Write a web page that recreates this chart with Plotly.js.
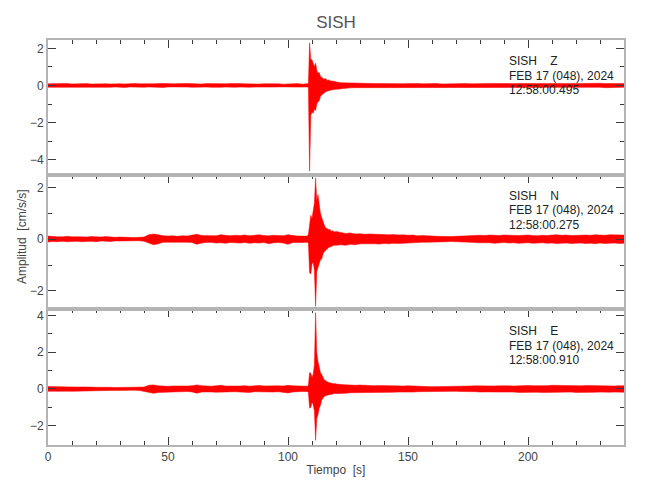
<!DOCTYPE html>
<html>
<head>
<meta charset="utf-8">
<script src="https://cdn.plot.ly/plotly-3.0.1.min.js"></script>
<style>html,body{margin:0;padding:0;background:#fff;}#chart{width:650px;height:500px;}</style>
</head>
<body>
<div id="chart"></div>
<script>
// ---------- DATA ----------
// sample times [s]: 0..108 every 2 s, 108.5..120 every 0.5 s, 122..240 every 2 s
const timeSegments = [[0, 108, 2], [108.5, 120, 0.5], [122, 240, 2]];

const stations = ["SISH", "SISH", "SISH"];
const components = ["Z", "N", "E"];
const dateLabels = ["FEB 17 (048), 2024", "FEB 17 (048), 2024", "FEB 17 (048), 2024"];
const startTimes = ["12:58:00.495", "12:58:00.275", "12:58:00.910"];

// Z component: upper / lower envelope per sample [cm/s/s]
const zHiPre = [0.09,0.10,0.08,0.10,0.11,0.08,0.10,0.09,0.10,0.08,
  0.09,0.11,0.09,0.08,0.10,0.09,0.08,0.10,0.11,0.09,
  0.08,0.10,0.09,0.10,0.08,0.10,0.09,0.08,0.10,0.11,
  0.09,0.10,0.08,0.10,0.09,0.10,0.08,0.09,0.10,0.08,
  0.10,0.09,0.08,0.10,0.08,0.09,0.10,0.08,0.09,0.07,
  0.09,0.08,0.10,0.07,0.08];
const zLoPre = [-0.10,-0.08,-0.10,-0.09,-0.08,-0.11,-0.09,-0.10,-0.08,-0.10,
  -0.09,-0.08,-0.10,-0.10,-0.08,-0.09,-0.11,-0.08,-0.10,-0.09,
  -0.10,-0.08,-0.10,-0.09,-0.11,-0.08,-0.10,-0.10,-0.08,-0.09,
  -0.10,-0.08,-0.10,-0.09,-0.10,-0.08,-0.10,-0.09,-0.08,-0.10,
  -0.09,-0.08,-0.10,-0.09,-0.08,-0.10,-0.08,-0.09,-0.08,-0.10,
  -0.08,-0.09,-0.07,-0.09,-0.08];
const zHiEvt = [0.10,2.30,1.40,1.38,1.15,1.02,1.20,0.80,0.66,0.70,0.50,0.46,0.40,0.34,0.38,0.30,0.27,0.30,0.24,0.22,0.25,0.20,0.22,0.19];
const zLoEvt = [-0.10,-4.62,-1.60,-1.45,-1.50,-1.28,-1.35,-1.00,-0.88,-0.84,-0.60,-0.52,-0.45,-0.40,-0.36,-0.32,-0.30,-0.29,-0.26,-0.25,-0.23,-0.22,-0.20,-0.20];
const zHiPost = [0.15,0.14,0.12,0.13,0.11,0.11,0.11,0.10,0.11,0.10,
  0.09,0.11,0.10,0.09,0.10,0.08,0.10,0.09,0.10,0.09,
  0.10,0.08,0.09,0.10,0.09,0.10,0.10,0.09,0.10,0.10,
  0.09,0.10,0.11,0.10,0.09,0.10,0.10,0.11,0.10,0.10,
  0.09,0.10,0.11,0.10,0.10,0.11,0.10,0.10,0.12,0.10,
  0.10,0.11,0.10,0.10,0.12,0.10,0.11,0.10,0.10,0.11];
const zLoPost = [-0.16,-0.15,-0.13,-0.12,-0.12,-0.11,-0.11,-0.11,-0.10,-0.10,
  -0.10,-0.09,-0.10,-0.10,-0.09,-0.10,-0.08,-0.10,-0.09,-0.10,
  -0.09,-0.10,-0.08,-0.09,-0.10,-0.09,-0.10,-0.10,-0.09,-0.10,
  -0.10,-0.09,-0.10,-0.11,-0.10,-0.09,-0.10,-0.10,-0.11,-0.10,
  -0.10,-0.10,-0.09,-0.11,-0.10,-0.10,-0.11,-0.10,-0.10,-0.12,
  -0.10,-0.10,-0.11,-0.10,-0.10,-0.12,-0.10,-0.10,-0.11,-0.10];

// N component
const nHiPre = [0.12,0.10,0.09,0.09,0.11,0.09,0.10,0.09,0.08,0.10,
  0.09,0.08,0.10,0.08,0.07,0.08,0.07,0.07,0.06,0.07,
  0.08,0.17,0.20,0.17,0.13,0.12,0.13,0.11,0.13,0.12,
  0.15,0.19,0.14,0.13,0.14,0.13,0.17,0.14,0.13,0.15,
  0.14,0.16,0.13,0.15,0.17,0.14,0.13,0.15,0.14,0.13,
  0.17,0.14,0.12,0.12,0.12];
const nLoPre = [-0.11,-0.09,-0.10,-0.08,-0.10,-0.09,-0.08,-0.10,-0.09,-0.08,
  -0.10,-0.07,-0.08,-0.09,-0.07,-0.07,-0.06,-0.06,-0.07,-0.06,
  -0.08,-0.15,-0.22,-0.18,-0.12,-0.13,-0.12,-0.12,-0.11,-0.12,
  -0.13,-0.20,-0.15,-0.13,-0.12,-0.15,-0.14,-0.16,-0.13,-0.14,
  -0.15,-0.13,-0.16,-0.14,-0.15,-0.13,-0.18,-0.14,-0.13,-0.15,
  -0.20,-0.13,-0.12,-0.13,-0.12];
const nHiEvt = [0.18,0.70,0.92,0.80,1.10,1.40,2.37,1.50,1.72,1.20,1.00,0.85,0.70,0.55,0.45,0.43,0.40,0.36,0.38,0.30,0.33,0.30,0.28,0.30];
const nLoEvt = [-0.16,-1.30,-1.35,-0.95,-0.90,-1.20,-2.60,-1.25,-1.10,-0.95,-0.80,-0.78,-0.60,-0.50,-0.45,-0.40,-0.36,-0.32,-0.30,-0.27,-0.26,-0.24,-0.23,-0.24];
const nHiPost = [0.26,0.22,0.24,0.20,0.21,0.19,0.20,0.19,0.18,0.18,
  0.17,0.18,0.16,0.17,0.15,0.16,0.13,0.14,0.12,0.12,
  0.11,0.10,0.11,0.10,0.11,0.12,0.13,0.13,0.14,0.15,
  0.14,0.16,0.15,0.14,0.16,0.15,0.13,0.14,0.15,0.16,
  0.14,0.13,0.15,0.14,0.16,0.17,0.15,0.16,0.14,0.15,
  0.17,0.16,0.15,0.17,0.16,0.15,0.17,0.16,0.15,0.16];
const nLoPost = [-0.22,-0.24,-0.20,-0.22,-0.18,-0.20,-0.18,-0.18,-0.19,-0.17,
  -0.18,-0.16,-0.17,-0.15,-0.16,-0.14,-0.13,-0.12,-0.12,-0.11,
  -0.10,-0.11,-0.10,-0.09,-0.10,-0.11,-0.12,-0.12,-0.13,-0.14,
  -0.15,-0.14,-0.16,-0.15,-0.13,-0.15,-0.14,-0.16,-0.15,-0.14,
  -0.16,-0.15,-0.14,-0.16,-0.15,-0.17,-0.16,-0.15,-0.17,-0.16,
  -0.15,-0.17,-0.16,-0.18,-0.15,-0.17,-0.16,-0.15,-0.17,-0.16];

// E component
const eHiPre = [0.13,0.12,0.13,0.11,0.13,0.12,0.10,0.11,0.12,0.10,
  0.09,0.10,0.08,0.09,0.08,0.08,0.08,0.07,0.08,0.09,
  0.10,0.20,0.22,0.17,0.15,0.14,0.16,0.15,0.14,0.16,
  0.17,0.22,0.18,0.16,0.15,0.17,0.20,0.16,0.15,0.17,
  0.16,0.18,0.15,0.17,0.19,0.16,0.15,0.18,0.17,0.16,
  0.20,0.17,0.15,0.14,0.15];
const eLoPre = [-0.13,-0.14,-0.11,-0.13,-0.12,-0.13,-0.11,-0.10,-0.11,-0.09,
  -0.10,-0.08,-0.09,-0.08,-0.08,-0.08,-0.07,-0.08,-0.07,-0.08,
  -0.10,-0.19,-0.24,-0.19,-0.16,-0.15,-0.14,-0.16,-0.15,-0.14,
  -0.16,-0.23,-0.17,-0.15,-0.16,-0.18,-0.21,-0.17,-0.16,-0.15,
  -0.17,-0.16,-0.19,-0.15,-0.17,-0.18,-0.16,-0.17,-0.15,-0.19,
  -0.22,-0.16,-0.15,-0.14,-0.14];
const eHiEvt = [0.20,0.90,0.85,0.62,0.80,1.30,4.15,1.95,1.50,1.20,0.90,0.80,0.62,0.52,0.46,0.40,0.38,0.35,0.33,0.30,0.31,0.28,0.30,0.27];
const eLoEvt = [-0.20,-1.05,-1.00,-0.72,-0.85,-1.20,-2.80,-1.60,-1.40,-1.05,-0.90,-0.62,-0.52,-0.42,-0.38,-0.35,-0.33,-0.30,-0.31,-0.28,-0.27,-0.26,-0.25,-0.26];
const eHiPost = [0.24,0.22,0.23,0.20,0.21,0.19,0.20,0.18,0.19,0.18,
  0.18,0.17,0.18,0.16,0.17,0.15,0.16,0.14,0.13,0.12,
  0.12,0.12,0.12,0.13,0.13,0.14,0.15,0.16,0.17,0.16,
  0.17,0.18,0.16,0.17,0.19,0.17,0.16,0.18,0.17,0.19,
  0.18,0.17,0.19,0.18,0.20,0.19,0.18,0.17,0.19,0.18,
  0.17,0.19,0.18,0.17,0.16,0.18,0.17,0.16,0.18,0.17];
const eLoPost = [-0.23,-0.24,-0.21,-0.22,-0.20,-0.21,-0.19,-0.20,-0.18,-0.19,
  -0.18,-0.18,-0.17,-0.18,-0.16,-0.17,-0.15,-0.14,-0.13,-0.12,
  -0.12,-0.12,-0.13,-0.13,-0.13,-0.14,-0.15,-0.16,-0.15,-0.17,
  -0.18,-0.16,-0.17,-0.19,-0.17,-0.18,-0.17,-0.19,-0.18,-0.17,
  -0.19,-0.18,-0.20,-0.18,-0.19,-0.17,-0.19,-0.18,-0.17,-0.19,
  -0.18,-0.17,-0.19,-0.18,-0.17,-0.16,-0.18,-0.17,-0.16,-0.18];

// ---------- BUILD ----------
const T = [];
timeSegments.forEach(function (s) {
  const n = Math.round((s[1] - s[0]) / s[2]);
  for (let i = 0; i <= n; i++) T.push(+(s[0] + i * s[2]).toFixed(3));
});

const hiSets = [zHiPre.concat(zHiEvt, zHiPost), nHiPre.concat(nHiEvt, nHiPost), eHiPre.concat(eHiEvt, eHiPost)];
const loSets = [zLoPre.concat(zLoEvt, zLoPost), nLoPre.concat(nLoEvt, nLoPost), eLoPre.concat(eLoEvt, eLoPost)];

const FONT = '"Liberation Sans", Arial, sans-serif';
const RED = '#ff0000';
// panel order top->bottom: Z, N, E
const axIds = ['3', '2', ''];
const domains = [[0.6679, 1], [0.3358, 0.6679], [0, 0.3358]];
const yRanges = [[-4.8, 2.45], [-2.7, 2.5], [-3.05, 4.35]];

const data = hiSets.map(function (hi, k) {
  const lo = loSets[k];
  return {
    type: 'scatter', mode: 'lines',
    x: T.concat(T.slice().reverse()),
    y: hi.concat(lo.slice().reverse()),
    fill: 'toself', fillcolor: RED,
    line: {color: RED, width: 0.5},
    xaxis: 'x' + axIds[k], yaxis: 'y' + axIds[k],
    hoverinfo: 'skip', showlegend: false
  };
});

const axisLine = '#b4b4b4', tickCol = '#3a3a3a';
const tickFont = {family: FONT, size: 12, color: '#444'};

const layout = {
  width: 650, height: 500,
  margin: {l: 48, r: 26, t: 40, b: 55},
  paper_bgcolor: '#fff', plot_bgcolor: '#fff',
  font: {family: FONT, color: '#333'},
  showlegend: false,
  title: {text: 'SISH', font: {family: FONT, size: 17, color: '#555'},
          x: 0.5, xref: 'paper', xanchor: 'center', y: 1 - 22 / 500, yref: 'container', yanchor: 'middle'},
  annotations: []
};

axIds.forEach(function (id, k) {
  const isBottom = (id === '');
  layout['xaxis' + id] = {
    domain: [0, 1], anchor: 'y' + id, range: [0, 240],
    side: isBottom ? 'bottom' : 'top',
    showline: true, linecolor: axisLine, linewidth: 2,
    mirror: isBottom ? 'allticks' : true,
    ticks: 'inside', ticklen: 8, tickwidth: 1, tickcolor: tickCol,
    tick0: 0, dtick: 50,
    minor: {dtick: 10, ticks: 'inside', ticklen: 4, tickcolor: tickCol, tickwidth: 1, showgrid: false},
    showticklabels: isBottom, tickfont: tickFont,
    showgrid: false, zeroline: false, fixedrange: true,
    title: isBottom ? {text: 'Tiempo  [s]', font: {family: FONT, size: 12, color: '#444'}, standoff: 2} : {text: ''}
  };
  if (!isBottom) layout['xaxis' + id].matches = 'x';
  layout['yaxis' + id] = {
    domain: domains[k], anchor: 'x' + id, range: yRanges[k],
    showline: true, linecolor: axisLine, linewidth: 2, mirror: 'allticks',
    ticks: 'inside', ticklen: 8, tickwidth: 1, tickcolor: tickCol,
    tick0: 0, dtick: 2,
    minor: {dtick: 1, ticks: 'inside', ticklen: 4, tickcolor: tickCol, tickwidth: 1, showgrid: false},
    tickfont: tickFont, showgrid: false, zeroline: false, fixedrange: true
  };
});

const labelRows = [[61, 75.5, 90], [195.5, 210.5, 225], [331, 345.5, 360]];
const NB = '\u00a0';
for (let k = 0; k < 3; k++) {
  const lines = [stations[k] + NB + NB + NB + NB + components[k], dateLabels[k], startTimes[k]];
  lines.forEach(function (txt, j) {
    layout.annotations.push({
      text: txt, xref: 'paper', yref: 'paper',
      x: (507 - 48) / 576, y: (445 - labelRows[k][j]) / 405,
      xanchor: 'left', yanchor: 'middle', showarrow: false,
      font: {family: FONT, size: 12, color: '#222'}
    });
  });
}
layout.annotations.push({
  text: 'Amplitud  [cm/s/s]', xref: 'paper', yref: 'paper',
  x: (22 - 48) / 576, y: (445 - 237) / 405, textangle: -90,
  xanchor: 'center', yanchor: 'middle', showarrow: false,
  font: {family: FONT, size: 12, color: '#444'}
});

Plotly.newPlot('chart', data, layout, {staticPlot: true, displayModeBar: false});
</script>
</body>
</html>
